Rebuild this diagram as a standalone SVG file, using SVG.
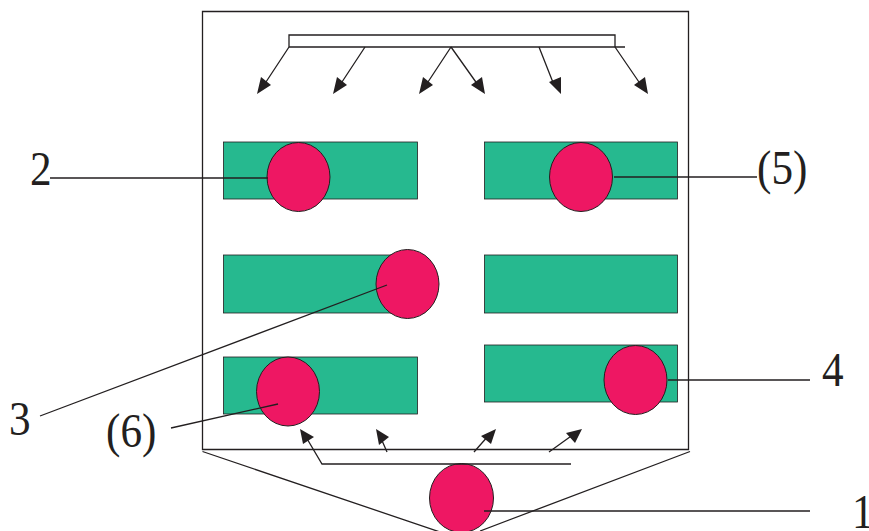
<svg xmlns="http://www.w3.org/2000/svg" width="869" height="531" viewBox="0 0 869 531">
<style>
.l{fill:none;stroke:#231f20;stroke-width:1.3}
.a{fill:#231f20;stroke:none}
.b{fill:#26b98f;stroke:#231f20;stroke-width:.8}
.c{fill:#ee1763;stroke:#231f20;stroke-width:1}
text{font-family:"Liberation Serif",serif;font-size:48px;fill:#231f20}
</style>
<rect width="869" height="531" fill="#fff"/>
<g id="housing"><path class="l" d="M202.500 11.500H688.500V449.500H202.500Z"/></g>
<g id="hopper"><path class="l" d="M202.500 451.500L440 532M690 451.500L480 531"/></g>
<g id="distributor"><path class="l" d="M289 47V35H615V47M289 47H625"/></g>
<g id="bed-1"><rect class="b" x="223.500" y="142" width="194" height="57"/></g>
<g id="bed-2"><rect class="b" x="484.500" y="142" width="193" height="57"/></g>
<g id="bed-3"><rect class="b" x="223.500" y="255" width="194" height="58"/></g>
<g id="bed-4"><rect class="b" x="484.500" y="255" width="193" height="58"/></g>
<g id="bed-5"><rect class="b" x="223.500" y="357" width="194" height="57"/></g>
<g id="bed-6"><rect class="b" x="484.500" y="345" width="193" height="57"/></g>
<g id="port-2"><ellipse class="c" cx="298.500" cy="177" rx="31.500" ry="34.500"/></g>
<g id="port-5"><ellipse class="c" cx="581" cy="177" rx="31.500" ry="34.500"/></g>
<g id="port-3"><ellipse class="c" cx="407.500" cy="284" rx="31.500" ry="34.500"/></g>
<g id="port-6"><ellipse class="c" cx="288" cy="391.500" rx="31.500" ry="34.500"/></g>
<g id="port-4"><ellipse class="c" cx="635.500" cy="380" rx="31.500" ry="34.500"/></g>
<g id="port-1"><ellipse class="c" cx="461.500" cy="498" rx="32" ry="34.500"/></g>
<g id="connectors">
<path class="l" d="M50 178H268M614 177H757M40 416L387 285M171 428L278 404M668 380H810M484 511H810"/>
<path class="l" d="M289 47L264 85M365 47L340 85M451 47L426 85M451 47L478 85M539 47L554 85M615 47L641 85"/>
<path class="l" d="M571 464H322L306 437M387 452L380 436M474 452L489 435M549 452L574 434"/>
<path class="a" d="M257 94L261 77L271 85ZM333 94L337 77L347 85ZM419 94L423 77L433 85ZM485 94L471 85L482 77ZM561 94L549 82L561 77ZM648 94L634 85L645 77Z"/>
<path class="a" d="M300 429L314 437L303 444ZM376 429L389 437L379 445ZM496 429L491 444L481 436ZM582 429L575 443L566 433Z"/>
</g>
<g id="labels">
<text transform="translate(30 185) scale(.9 1)">2</text>
<text transform="translate(757 184) scale(.9 1)">(5)</text>
<text transform="translate(9 435) scale(.9 1)">3</text>
<text transform="translate(106 447) scale(.9 1)">(6)</text>
<text transform="translate(822 386) scale(.9 1)">4</text>
<text transform="translate(852 528) scale(.9 1)">1</text>
</g>
</svg>
